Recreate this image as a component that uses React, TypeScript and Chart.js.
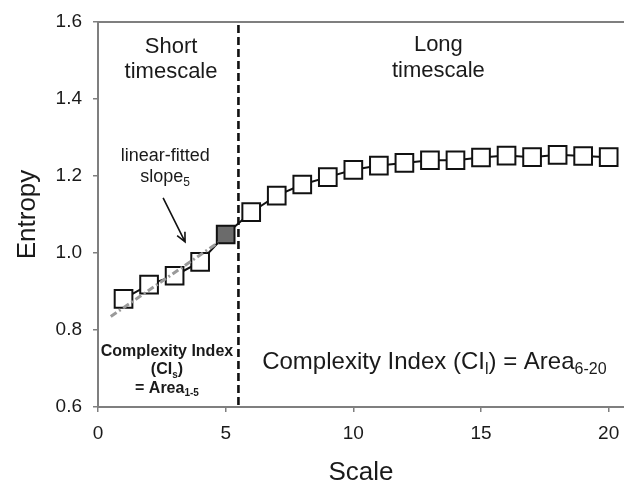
import React, { useEffect, useRef } from "react";
import { Chart, registerables } from "chart.js";

Chart.register(...registerables);

// ---- data ----
const scales = [1, 2, 3, 4, 5, 6, 7, 8, 9, 10, 11, 12, 13, 14, 15, 16, 17, 18, 19, 20];
const entropy = [0.881, 0.918, 0.941, 0.977, 1.048, 1.106, 1.149, 1.178, 1.197, 1.216, 1.227, 1.234, 1.241, 1.241, 1.248, 1.253, 1.249, 1.255, 1.252, 1.249];
const highlightScale = 5;
const fitX = [0.5, 4.7];
const fitY = [0.835, 1.027];
const boundaryScale = 5.5;
const xTicks = [0, 5, 10, 15, 20];
const yTicks = [0.6, 0.8, 1.0, 1.2, 1.4, 1.6];
const xMin = 0;
const xMax = 20.6;
const yMin = 0.6;
const yMax = 1.6;

const FONT = "'Liberation Sans', Arial, sans-serif";
const TEXT = "#1a1a1a";
const AXIS = "#7f7f7f";

type Part = [string, boolean?];
type Note = { x: number; y: number; parts: Part[]; size: number; bold?: boolean; align?: "center" | "left" };

const notes: Note[] = [
  { x: 2.86, y: 1.535, parts: [["Short"]], size: 22 },
  { x: 2.86, y: 1.47, parts: [["timescale"]], size: 22 },
  { x: 13.33, y: 1.54, parts: [["Long"]], size: 22 },
  { x: 13.33, y: 1.473, parts: [["timescale"]], size: 22 },
  { x: 2.63, y: 1.252, parts: [["linear-fitted"]], size: 18 },
  { x: 2.63, y: 1.197, parts: [["slope"], ["5", true]], size: 18 },
  { x: 2.7, y: 0.745, parts: [["Complexity Index"]], size: 16, bold: true },
  { x: 2.7, y: 0.696, parts: [["(CI"], ["s", true], [")"]], size: 16, bold: true },
  { x: 2.7, y: 0.649, parts: [["= Area"], ["1-5", true]], size: 16, bold: true },
  { x: 6.43, y: 0.717, parts: [["Complexity Index (CI"], ["l", true], [") = Area"], ["6-20", true]], size: 24, align: "left" },
];
const arrowFrom = { x: 2.55, y: 1.143 };
const arrowTo = { x: 3.41, y: 1.029 };

function drawRich(ctx: CanvasRenderingContext2D, n: Note, px: number, py: number) {
  const w = n.bold ? "bold " : "";
  const subSize = Math.round(n.size * 0.65);
  const main = `${w}${n.size}px ${FONT}`;
  const sub = `${w}${subSize}px ${FONT}`;
  let total = 0;
  for (const [t, s] of n.parts) {
    ctx.font = s ? sub : main;
    total += ctx.measureText(t).width;
  }
  let x = n.align === "left" ? px : px - total / 2;
  ctx.textBaseline = "middle";
  ctx.textAlign = "left";
  ctx.fillStyle = TEXT;
  for (const [t, s] of n.parts) {
    ctx.font = s ? sub : main;
    ctx.fillText(t, x, s ? py + n.size * 0.3 : py);
    x += ctx.measureText(t).width;
  }
}

const annotate = {
  id: "annotate",
  afterDatasetsDraw(chart: any) {
    const ctx = chart.ctx as CanvasRenderingContext2D;
    const xs = chart.scales.x;
    const ys = chart.scales.y;
    const area = chart.chartArea;
    ctx.save();
    // top border
    ctx.strokeStyle = AXIS;
    ctx.lineWidth = 2;
    ctx.beginPath();
    ctx.moveTo(area.left, area.top);
    ctx.lineTo(chart.width, area.top);
    ctx.stroke();
    // boundary dashed line
    const bx = xs.getPixelForValue(boundaryScale);
    ctx.strokeStyle = "#111";
    ctx.lineWidth = 2.6;
    ctx.setLineDash([8, 4]);
    ctx.beginPath();
    ctx.moveTo(bx, area.top + 3);
    ctx.lineTo(bx, area.bottom);
    ctx.stroke();
    ctx.setLineDash([]);
    // arrow
    const ax1 = xs.getPixelForValue(arrowFrom.x), ay1 = ys.getPixelForValue(arrowFrom.y);
    const ax2 = xs.getPixelForValue(arrowTo.x), ay2 = ys.getPixelForValue(arrowTo.y);
    ctx.strokeStyle = "#111";
    ctx.lineWidth = 1.6;
    ctx.beginPath();
    ctx.moveTo(ax1, ay1);
    ctx.lineTo(ax2, ay2);
    const ang = Math.atan2(ay2 - ay1, ax2 - ax1);
    const hl = 10;
    ctx.moveTo(ax2 - hl * Math.cos(ang - 0.45), ay2 - hl * Math.sin(ang - 0.45));
    ctx.lineTo(ax2, ay2);
    ctx.lineTo(ax2 - hl * Math.cos(ang + 0.45), ay2 - hl * Math.sin(ang + 0.45));
    ctx.stroke();
    // text
    for (const n of notes) {
      drawRich(ctx, n, xs.getPixelForValue(n.x), ys.getPixelForValue(n.y));
    }
    ctx.restore();
  },
};

export default function App() {
  const ref = useRef<HTMLCanvasElement | null>(null);
  useEffect(() => {
    document.body.style.margin = "0";
    const canvas = ref.current!;
    const chart = new Chart(canvas, {
      type: "scatter",
      data: {
        datasets: [
          {
            label: "fit",
            data: fitX.map((x, i) => ({ x, y: fitY[i] })),
            showLine: true,
            borderColor: "#9a9a9a",
            borderWidth: 3,
            borderDash: [7, 3, 2, 3],
            pointRadius: 0,
            order: 0,
          },
          {
            label: "entropy",
            data: scales.map((x, i) => ({ x, y: entropy[i] })),
            showLine: true,
            borderColor: "#111",
            borderWidth: 2,
            pointStyle: "rect",
            pointRadius: 12.5,
            pointBorderWidth: 2,
            pointBorderColor: "#111",
            pointBackgroundColor: scales.map((s) => (s === highlightScale ? "#6b6b6b" : "#ffffff")),
            order: 1,
          },
        ],
      },
      options: {
        responsive: false,
        animation: false,
        layout: { autoPadding: false, padding: { top: 22, right: 0, left: 0, bottom: 0 } },
        plugins: { legend: { display: false }, tooltip: { enabled: false } },
        scales: {
          x: {
            type: "linear",
            min: xMin,
            max: xMax,
            afterBuildTicks: (s: any) => {
              s.ticks = xTicks.map((v) => ({ value: v }));
            },
            afterFit: (s: any) => {
              s.height = 76;
              s.paddingLeft = 0;
              s.paddingRight = 0;
            },
            grid: { drawOnChartArea: false, drawTicks: true, tickLength: 5, color: AXIS, lineWidth: 1.5 },
            border: { display: true, color: AXIS, width: 2 },
            ticks: { color: TEXT, font: { family: FONT, size: 19 }, padding: 10, callback: (v: any) => String(v) },
            title: {
              display: true,
              text: "Scale",
              color: TEXT,
              font: { family: FONT, size: 26, lineHeight: 0.8 },
              padding: { top: 0, bottom: 0 },
            },
          },
          y: {
            type: "linear",
            min: yMin,
            max: yMax,
            afterBuildTicks: (s: any) => {
              s.ticks = yTicks.map((v) => ({ value: v }));
            },
            afterFit: (s: any) => {
              s.width = 98;
              s.paddingTop = 0;
              s.paddingBottom = 0;
            },
            grid: { drawOnChartArea: false, drawTicks: true, tickLength: 5, color: AXIS, lineWidth: 1.5 },
            border: { display: true, color: AXIS, width: 2 },
            ticks: { color: TEXT, font: { family: FONT, size: 19 }, padding: 11, callback: (v: any) => Number(v).toFixed(1) },
            title: {
              display: true,
              text: "Entropy",
              color: TEXT,
              font: { family: FONT, size: 26 },
              padding: { top: 12, bottom: 0 },
            },
          },
        },
      },
      plugins: [annotate],
    });
    return () => chart.destroy();
  }, []);
  return <canvas ref={ref} width={624} height={483} />;
}
